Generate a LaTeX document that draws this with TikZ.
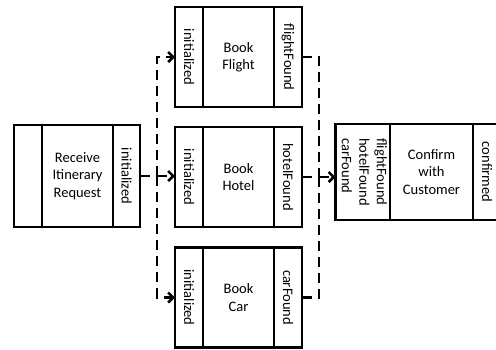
\documentclass[tikz,border=0pt]{standalone}
\usepackage{fontspec}
\setmainfont{Carlito}
\usepackage{graphicx}
\usetikzlibrary{positioning,arrows.meta}

\newcommand{\vtext}[1]{\rotatebox{-90}{#1}}

\begin{document}
\begin{tikzpicture}[x=1pt, y=-1pt, font=\fontsize{14.5}{17.5}\selectfont,
    task/.style = {draw, line width=2.5pt, outer sep=0pt, inner sep=1pt, minimum height=100pt, align=center},
    pin/.style = {task, minimum width=28pt},
    link/.style = {line width=2.6pt, dash pattern=on 10pt off 6pt},
    arr/.style = {link, -{Straight Barb[length=5pt, width=10pt]}}]
    \useasboundingbox (0,0) rectangle (496,349);
    \clip (0,0) rectangle (496,349);

    \node[task, minimum width=71pt, minimum height=102pt] (recv) at (77.5,176) {Receive\\Itinerary\\Request};
    \node[pin, minimum height=102pt] (recvin) [left=0pt of recv] {};
    \node[pin, minimum height=102pt, minimum width=27pt] (recvout) [right=0pt of recv] {\vtext{initialized}};

    \node[task, minimum width=71pt] (flight) at (238.5,57) {Book\\Flight};
    \node[pin] (flightin) [left=0pt of flight] {\vtext{initialized}};
    \node[pin] (flightout) [right=0pt of flight] {\vtext{flightFound}};

    \node[task, minimum width=71pt] (hotel) at (238.5,177) {Book\\Hotel};
    \node[pin] (hotelin) [left=0pt of hotel] {\vtext{initialized}};
    \node[pin] (hotelout) [right=0pt of hotel] {\vtext{hotelFound}};

    \node[task, minimum width=71pt] (car) at (238.5,297.5) {Book\\Car};
    \node[pin] (carin) [left=0pt of car] {\vtext{initialized}};
    \node[pin] (carout) [right=0pt of car] {\vtext{carFound}};

    \node[task, minimum width=83pt, minimum height=96pt] (confirm) at (431.5,172) {Confirm\\with\\Customer};
    \node[pin, minimum width=52pt, minimum height=96pt] (confirmin) [left=0pt of confirm]
        {\vtext{\begin{tabular}{@{}l@{}}flightFound\\hotelFound\\carFound\end{tabular}}};
    \node[pin, minimum height=96pt] (confirmout) [right=0pt of confirm] {\vtext{confirmed}};

    % fork after receiving the request
    \coordinate (fork) at ([xshift=17pt]recvout.east);
    \draw[link] (recvout.east) -- (fork);
    \draw[arr] (fork) |- (flightin.west);
    \draw[arr] (fork) -- (fork -| hotelin.west);
    \draw[arr] (fork) |- (carin.west);

    % join before confirming
    \coordinate (join) at ([xshift=17pt]hotelout.east);
    \draw[link] (flightout.east) -| (join);
    \draw[link] (hotelout.east) -- (join);
    \draw[link] (carout.east) -| (join);
    \draw[arr] (join) -- (join -| confirmin.west);

\end{tikzpicture}
\end{document}
